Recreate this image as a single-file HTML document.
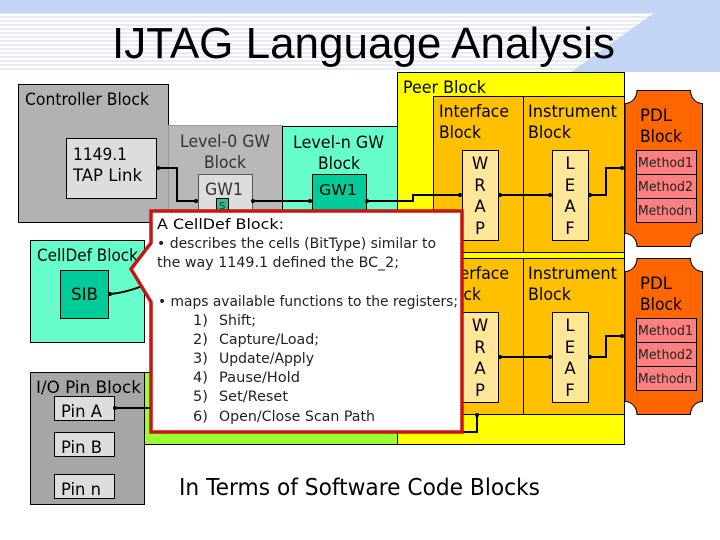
<!DOCTYPE html>
<html><head><meta charset="utf-8"><style>html,body{margin:0;padding:0;background:#fff;width:720px;height:540px;overflow:hidden}svg{display:block}
text{font-family:"DejaVu Sans",sans-serif;font-size:16.5px;fill:#000;lengthAdjust:spacingAndGlyphs}
.m{font-size:13px;fill:#222}.c{font-size:14.5px;fill:#222}.g{fill:#333}
</style></head><body>
<svg width="720" height="540" viewBox="0 0 720 540" xmlns="http://www.w3.org/2000/svg">
<defs><pattern id="st" width="8" height="4" patternUnits="userSpaceOnUse"><rect width="8" height="4" fill="#fff"/><rect width="8" height="2" fill="#e6ebf5"/></pattern></defs>
<rect width="720" height="72" fill="#c3d5f5"/>
<polygon points="0,13 654,13 571,72 0,72" fill="url(#st)"/>
<text x="112" y="58" style="font-family:'Liberation Sans',sans-serif;font-size:44px" textLength="503" lengthAdjust="spacingAndGlyphs">IJTAG Language Analysis</text>

<g stroke="#000" stroke-width="1">
<rect x="18.500" y="84.500" width="150" height="138" fill="#b2b2b2"/>
<rect x="168.500" y="125.500" width="114" height="90" fill="#b8b8b8" stroke="#999"/>
<rect x="282.500" y="126.500" width="115" height="90" fill="#66ffcc"/>
<rect x="66.500" y="138.500" width="90" height="60" fill="#ddd"/>
<rect x="198.500" y="174.500" width="54" height="45" fill="#ddd" stroke="#555"/>
<rect x="312.500" y="174.500" width="54" height="45" fill="#00cc99"/>
<rect x="216.500" y="198.500" width="12" height="12" fill="#33bb88"/>
<rect x="30.500" y="240.500" width="114" height="102" fill="#66ffcc"/>
<rect x="60.500" y="270.500" width="48" height="48" fill="#00cc99"/>
<rect x="397.500" y="72.500" width="227" height="372" fill="#ffff00"/>
<rect x="144.500" y="372.500" width="253" height="72" fill="#99ff33"/>
<rect x="433.500" y="96.500" width="90" height="156" fill="#ffc000"/>
<rect x="523.500" y="96.500" width="101" height="156" fill="#ffc000"/>
<rect x="433.500" y="258.500" width="90" height="156" fill="#ffc000"/>
<rect x="523.500" y="258.500" width="101" height="156" fill="#ffc000"/>
<rect x="462.500" y="150.500" width="36" height="90" fill="#ffe699"/>
<rect x="552.500" y="150.500" width="36" height="90" fill="#ffe699"/>
<rect x="462.500" y="312.500" width="36" height="90" fill="#ffe699"/>
<rect x="552.500" y="312.500" width="36" height="90" fill="#ffe699"/>
<path d="M637 90.500H690.500A12 13 0 0 0 702.500 103.500V233.500A12 13 0 0 0 690.500 246.500H637A12 13 0 0 0 625 233.500V103.500A12 13 0 0 0 637 90.500Z" fill="#ff6600"/>
<path d="M637 258.500H690.500A12 13 0 0 0 702.500 271.500V401.500A12 13 0 0 0 690.500 414.500H637A12 13 0 0 0 625 401.500V271.500A12 13 0 0 0 637 258.500Z" fill="#ff6600"/>
<rect x="636.500" y="150.500" width="60" height="24" fill="#ff8080"/><rect x="636.500" y="174.500" width="60" height="24" fill="#ff8080"/><rect x="636.500" y="198.500" width="60" height="24" fill="#ff8080"/>
<rect x="636.500" y="318.500" width="60" height="24" fill="#ff8080"/><rect x="636.500" y="342.500" width="60" height="24" fill="#ff8080"/><rect x="636.500" y="366.500" width="60" height="24" fill="#ff8080"/>
<rect x="30.500" y="372.500" width="114" height="132" fill="#a6a6a6"/>
<rect x="54.500" y="396.500" width="60" height="24" fill="#ddd"/>
<rect x="54.500" y="432.500" width="60" height="24" fill="#ddd"/>
<rect x="54.500" y="474.500" width="60" height="24" fill="#ddd"/>
</g>

<g fill="none" stroke="#000" stroke-width="2">
<path d="M157 168H177V201H198"/>
<path d="M253 201H312"/>
<path d="M367 201H413V195H460"/>
<path d="M499 195H550"/>
<path d="M589 195H606V168H622"/>
<path d="M499 357H550"/>
<path d="M589 357H606V336H622"/>
<path d="M477 415V432H460"/>
<path d="M109 294Q125 293 145 285"/>
<path d="M115 408H152"/>
</g>
<g fill="#000">
<circle cx="158" cy="168" r="2"/><circle cx="196" cy="201" r="2"/><circle cx="253" cy="201" r="2"/><circle cx="310" cy="201" r="2"/><circle cx="367" cy="201" r="2"/><circle cx="460" cy="195" r="2"/><circle cx="500" cy="195" r="2"/><circle cx="550" cy="195" r="2"/><circle cx="590" cy="195" r="2"/><circle cx="622" cy="168" r="2"/><circle cx="500" cy="357" r="2"/><circle cx="550" cy="357" r="2"/><circle cx="590" cy="357" r="2"/><circle cx="622" cy="336" r="2"/><circle cx="477" cy="415" r="2"/><circle cx="110" cy="294" r="2"/><circle cx="115" cy="408" r="2"/>
</g>

<text x="25" y="105" textLength="124" lengthAdjust="spacingAndGlyphs">Controller Block</text>
<text x="73" y="160" textLength="54" lengthAdjust="spacingAndGlyphs">1149.1</text>
<text x="73" y="181" textLength="69" lengthAdjust="spacingAndGlyphs">TAP Link</text>
<text class="g" x="180" y="147" textLength="90" lengthAdjust="spacingAndGlyphs">Level-0 GW</text>
<text class="g" x="204" y="168" textLength="42" lengthAdjust="spacingAndGlyphs">Block</text>
<text class="g" x="205" y="195" textLength="38" lengthAdjust="spacingAndGlyphs">GW1</text>
<text x="293" y="148" textLength="91" lengthAdjust="spacingAndGlyphs">Level-n GW</text>
<text x="318" y="169" textLength="42" lengthAdjust="spacingAndGlyphs">Block</text>
<text x="319" y="195" textLength="38" lengthAdjust="spacingAndGlyphs" style="font-size:15px">GW1</text>
<text x="219" y="209" style="font-size:10px" class="g">S</text>
<text x="37" y="261" textLength="101" lengthAdjust="spacingAndGlyphs">CellDef Block</text>
<text x="71" y="300" textLength="27" lengthAdjust="spacingAndGlyphs">SIB</text>
<text x="36" y="393" textLength="105" lengthAdjust="spacingAndGlyphs">I/O Pin Block</text>
<text x="61" y="417" textLength="41" lengthAdjust="spacingAndGlyphs">Pin A</text>
<text x="61" y="453" textLength="41" lengthAdjust="spacingAndGlyphs">Pin B</text>
<text x="61" y="495" textLength="40" lengthAdjust="spacingAndGlyphs">Pin n</text>
<text x="179" y="495" textLength="361" lengthAdjust="spacingAndGlyphs" style="font-size:23px">In Terms of Software Code Blocks</text>

<text x="403" y="93" textLength="83" lengthAdjust="spacingAndGlyphs">Peer Block</text>
<text x="439" y="117" textLength="70" lengthAdjust="spacingAndGlyphs">Interface</text>
<text x="439" y="138" textLength="42" lengthAdjust="spacingAndGlyphs">Block</text>
<text x="528" y="117" textLength="89" lengthAdjust="spacingAndGlyphs">Instrument</text>
<text x="528" y="138" textLength="43" lengthAdjust="spacingAndGlyphs">Block</text>
<text x="439" y="279" textLength="70" lengthAdjust="spacingAndGlyphs">Interface</text>
<text x="439" y="300" textLength="42" lengthAdjust="spacingAndGlyphs">Block</text>
<text x="528" y="279" textLength="89" lengthAdjust="spacingAndGlyphs">Instrument</text>
<text x="528" y="300" textLength="43" lengthAdjust="spacingAndGlyphs">Block</text>

<g text-anchor="middle">
<text x="480" y="169">W</text><text x="480" y="191">R</text><text x="480" y="212">A</text><text x="480" y="234">P</text>
<text x="570" y="169">L</text><text x="570" y="191">E</text><text x="570" y="212">A</text><text x="570" y="234">F</text>
<text x="480" y="331">W</text><text x="480" y="353">R</text><text x="480" y="374">A</text><text x="480" y="396">P</text>
<text x="570" y="331">L</text><text x="570" y="353">E</text><text x="570" y="374">A</text><text x="570" y="396">F</text>
</g>

<text x="640" y="121" textLength="32" lengthAdjust="spacingAndGlyphs">PDL</text>
<text x="640" y="142" textLength="42" lengthAdjust="spacingAndGlyphs">Block</text>
<text x="640" y="289" textLength="32" lengthAdjust="spacingAndGlyphs">PDL</text>
<text x="640" y="310" textLength="42" lengthAdjust="spacingAndGlyphs">Block</text>
<text class="m" x="638" y="167" textLength="55" lengthAdjust="spacingAndGlyphs">Method1</text>
<text class="m" x="638" y="191" textLength="55" lengthAdjust="spacingAndGlyphs">Method2</text>
<text class="m" x="638" y="215" textLength="54" lengthAdjust="spacingAndGlyphs">Methodn</text>
<text class="m" x="638" y="335" textLength="55" lengthAdjust="spacingAndGlyphs">Method1</text>
<text class="m" x="638" y="359" textLength="55" lengthAdjust="spacingAndGlyphs">Method2</text>
<text class="m" x="638" y="383" textLength="54" lengthAdjust="spacingAndGlyphs">Methodn</text>

<path d="M151 211H462V432H151V302L131 269L151 243Z" fill="#fff" stroke="#c81414" stroke-width="3.500"/>
<text class="c" x="157" y="229" textLength="127" lengthAdjust="spacingAndGlyphs" style="fill:#000">A CellDef Block:</text>
<text class="c" x="157" y="248" textLength="279" lengthAdjust="spacingAndGlyphs">• describes the cells (BitType) similar to</text>
<text class="c" x="157" y="267" textLength="242" lengthAdjust="spacingAndGlyphs">the way 1149.1 defined the BC_2;</text>
<text class="c" x="158" y="306" textLength="300" lengthAdjust="spacingAndGlyphs">• maps available functions to the registers;</text>
<text class="c" x="193" y="325">1)</text><text class="c" x="219" y="325" textLength="37" lengthAdjust="spacingAndGlyphs">Shift;</text>
<text class="c" x="193" y="344">2)</text><text class="c" x="219" y="344" textLength="100" lengthAdjust="spacingAndGlyphs">Capture/Load;</text>
<text class="c" x="193" y="363">3)</text><text class="c" x="219" y="363" textLength="95" lengthAdjust="spacingAndGlyphs">Update/Apply</text>
<text class="c" x="193" y="382">4)</text><text class="c" x="219" y="382" textLength="81" lengthAdjust="spacingAndGlyphs">Pause/Hold</text>
<text class="c" x="193" y="401">5)</text><text class="c" x="219" y="401" textLength="69" lengthAdjust="spacingAndGlyphs">Set/Reset</text>
<text class="c" x="193" y="421">6)</text><text class="c" x="219" y="421" textLength="156" lengthAdjust="spacingAndGlyphs">Open/Close Scan Path</text>
</svg>
</body></html>
